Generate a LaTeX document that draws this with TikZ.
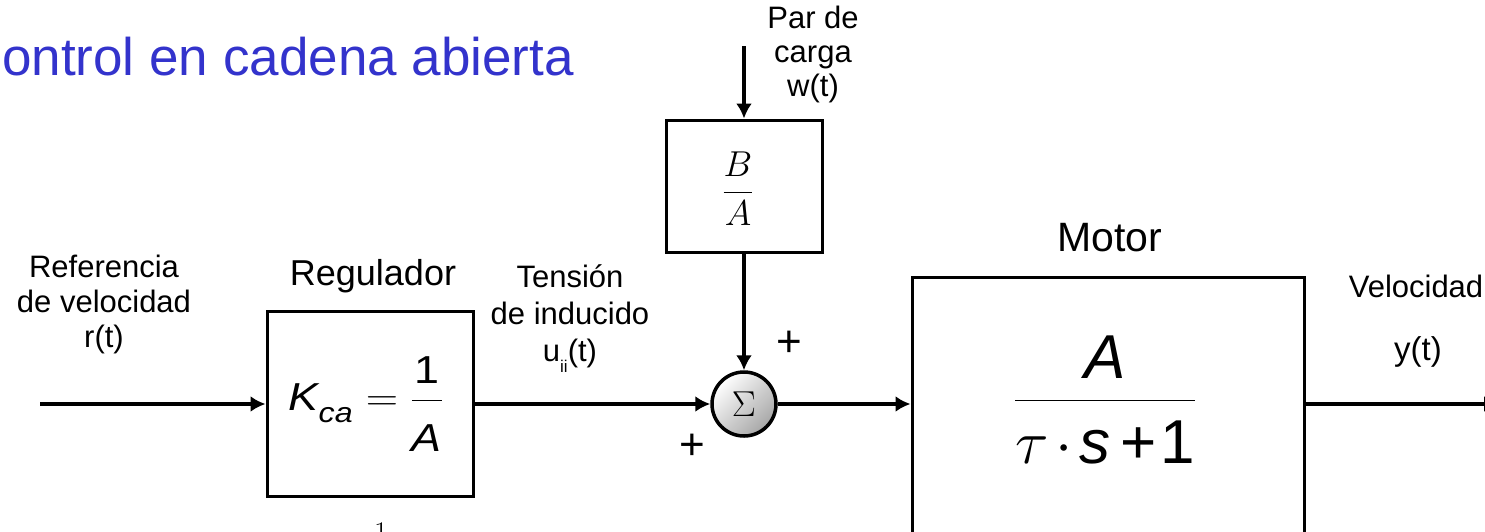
\RequirePackage{fix-cm}
\documentclass[tikz,border=0pt]{standalone}
\usepackage{amsmath}
\usepackage{graphicx}
\usepackage[no-math]{fontspec}
\setmainfont{Liberation Sans}
\usetikzlibrary{arrows.meta}
\definecolor{titleblue}{RGB}{51,51,204}
\newcommand\pxfont[2]{\fontsize{#1}{#2}\selectfont}
\begin{document}
\begin{tikzpicture}[x=1pt,y=-1pt,
  conn/.style={line width=4.5pt,-{Latex[length=15pt,width=16pt]}},
  blockbox/.style={draw,line width=3pt,inner sep=0pt},
  lbl/.style={align=center,inner sep=0pt},
  plain/.style={inner sep=0pt}]
\useasboundingbox (0,0) rectangle (1485,531);
\clip (0,0) rectangle (1485,531);

% title
\node[plain, anchor=base west, text=titleblue, font=\pxfont{53}{60}] (title) at (2,75) {ontrol en cadena abierta};

% blocks
\node[blockbox, minimum width=206pt, minimum height=185pt] (reg) at (370,404) {};
\node[plain, anchor=base, font=\pxfont{39}{47}] (regtf) at (366,410)
  {\scalebox{1.15}[1]{$\textit{K}_{\raisebox{-7pt}{\pxfont{28}{28}\itshape ca}}=\dfrac{\text{1}}{\raisebox{-15pt}{\textit{A}}}$}};
\node[blockbox, minimum width=156pt, minimum height=132pt] (ba) at (744,186) {};
\node[plain, font=\pxfont{36}{36}] (batf) at (738,189) {$\dfrac{B}{A}$};
\node[blockbox, minimum width=392pt, minimum height=283pt] (motor) at (1108,418.5) {};
\node[plain, anchor=base, font=\pxfont{62}{62}] (mtf) at (1105,416)
  {$\dfrac{\raisebox{-4pt}{\textit{A}}}{\raisebox{-5pt}{$\tau\mkern2mu{\cdot}\mkern2mu\textit{s}\mkern3mu\text{+}\mkern1mu\text{1}$}}$};
\node[draw, circle, line width=3.5pt, minimum size=64pt, inner sep=0pt,
      top color=white, bottom color=gray!70, shading angle=45, font=\pxfont{36}{36}] (sum) at (744,404) {$\Sigma$};

% signs
\node[plain, font=\pxfont{44}{44}] (plustop) at (789,344) {+};
\node[plain, font=\pxfont{44}{44}] (plusleft) at (692,447) {+};

% labels
\node[lbl, anchor=north, font=\pxfont{31}{35}] (refl) at (104,254.5) {Referencia\\de velocidad\\r(t)};
\node[plain, anchor=base, font=\pxfont{36}{36}] (regl) at (373,285) {Regulador};
\node[lbl, anchor=north, font=\pxfont{31}{37}] (tenl) at (570,264) {Tensión\\de inducido\\u\raisebox{-11pt}{\pxfont{17}{17}ii}(t)};
\node[lbl, anchor=north, font=\pxfont{31}{34}] (parl) at (813,5.5) {Par de\\carga\\w(t)};
\node[plain, anchor=base, font=\pxfont{41}{41}] (motl) at (1110,251) {Motor};
\node[plain, anchor=base, font=\pxfont{31}{31}] (vell) at (1416,297) {Velocidad};
\node[plain, anchor=base, font=\pxfont{33}{33}] (yl) at (1418,360) {y(t)};
\node[plain, anchor=north, font=\pxfont{30}{30}] (one) at (381,523) {$1$};

% connectors
\coordinate (rin) at (40,404);
\coordinate (wtop) at (744,46);
\coordinate (yout) at (1499,404);
\draw[conn] (rin) -- (reg.west);
\draw[conn] (reg.east) -- (sum.west);
\draw[conn] (wtop) -- (ba.north);
\draw[conn] (ba.south) -- (sum.north);
\draw[conn] (sum.east) -- (sum.east -| motor.west);
\draw[conn] (sum.east -| motor.east) -- (yout);
\end{tikzpicture}
\end{document}
